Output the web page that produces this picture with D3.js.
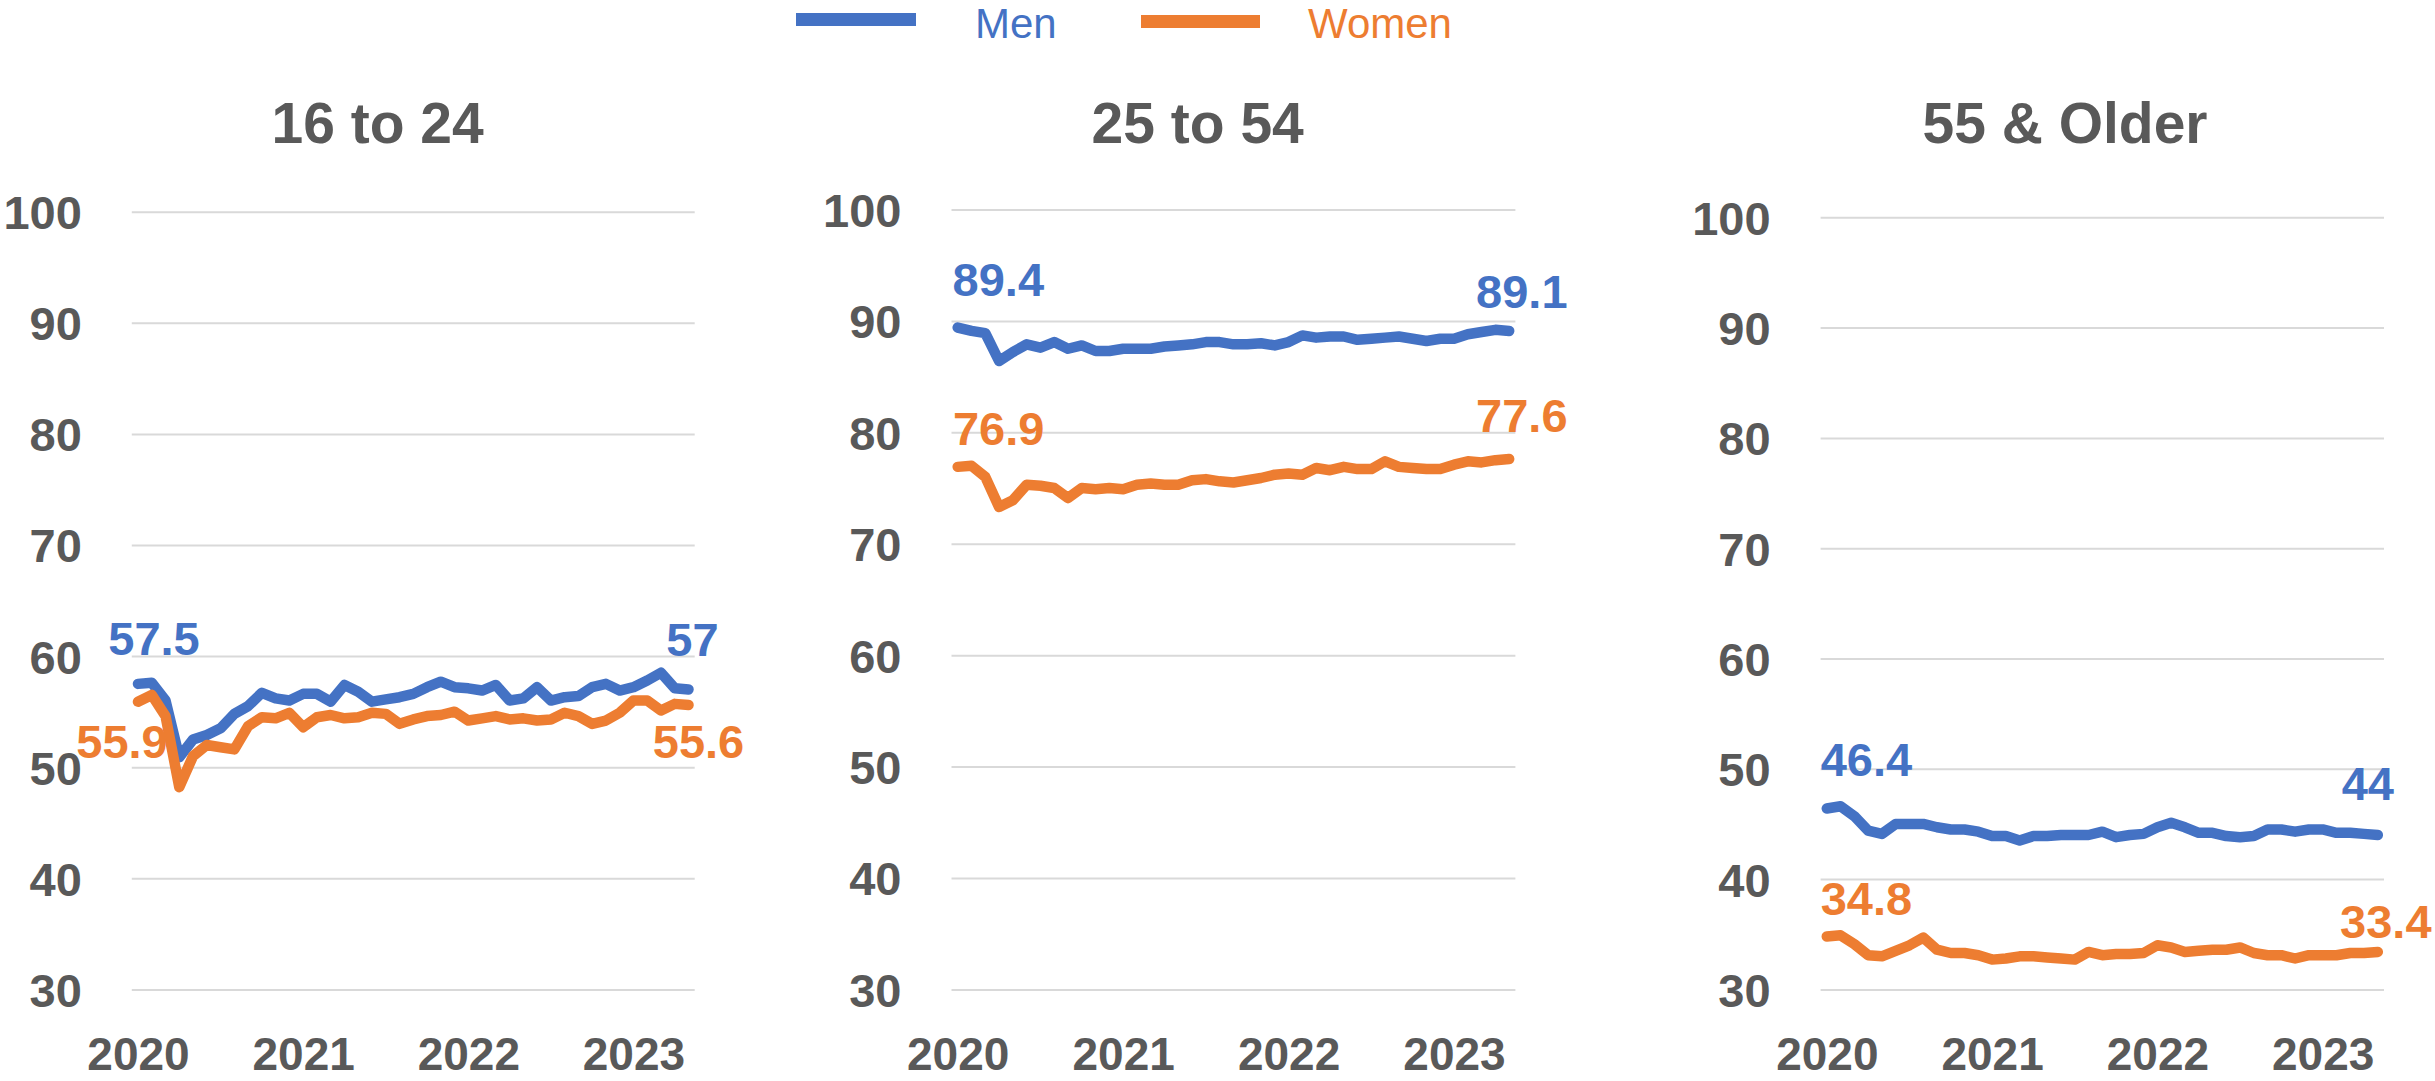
<!DOCTYPE html>
<html>
<head>
<meta charset="utf-8">
<script src="https://cdn.jsdelivr.net/npm/d3@7"></script>
<style>
  html, body { margin: 0; padding: 0; background: #ffffff; }
  svg { display: block; }
  text { font-family: "Liberation Sans", Arial, sans-serif; }
</style>
</head>
<body>
<svg id="chart" width="2435" height="1081"></svg>
<script>
// ---------------- data ----------------
const months = [
  "2020-01","2020-02","2020-03","2020-04","2020-05","2020-06","2020-07","2020-08","2020-09","2020-10","2020-11","2020-12",
  "2021-01","2021-02","2021-03","2021-04","2021-05","2021-06","2021-07","2021-08","2021-09","2021-10","2021-11","2021-12",
  "2022-01","2022-02","2022-03","2022-04","2022-05","2022-06","2022-07","2022-08","2022-09","2022-10","2022-11","2022-12",
  "2023-01","2023-02","2023-03","2023-04","2023-05"
];
const yearTicks = ["2020-01", "2021-01", "2022-01", "2023-01"];
const yearLabels = ["2020", "2021", "2022", "2023"];
const yTicks = [30, 40, 50, 60, 70, 80, 90, 100];
const seriesNames = ["Men", "Women"];
const panelTitles = ["16 to 24", "25 to 54", "55 & Older"];

const men16 = [57.5,57.6,56.0,50.9,52.5,52.9,53.5,54.8,55.5,56.7,56.2,56.0,56.6,56.6,55.9,57.4,56.8,55.9,56.1,56.3,
               56.6,57.2,57.7,57.2,57.1,56.9,57.4,56.0,56.2,57.2,56.0,56.3,56.4,57.2,57.5,56.9,57.2,57.8,58.5,57.1,57.0];
const women16 = [55.9,56.5,54.6,48.2,51.0,52.0,51.8,51.6,53.7,54.5,54.4,54.9,53.6,54.5,54.7,54.4,54.5,54.9,54.8,53.9,
                 54.3,54.6,54.7,55.0,54.2,54.4,54.6,54.3,54.4,54.2,54.3,54.9,54.6,53.9,54.2,54.9,56.0,56.0,55.1,55.7,55.6];
const men25 = [89.4,89.1,88.9,86.4,87.2,87.9,87.6,88.1,87.5,87.8,87.3,87.3,87.5,87.5,87.5,87.7,87.8,87.9,88.1,88.1,
               87.9,87.9,88.0,87.8,88.1,88.7,88.5,88.6,88.6,88.3,88.4,88.5,88.6,88.4,88.2,88.4,88.4,88.8,89.0,89.2,89.1];
const women25 = [76.9,77.0,76.0,73.3,73.9,75.3,75.2,75.0,74.1,75.0,74.9,75.0,74.9,75.3,75.4,75.3,75.3,75.7,75.8,75.6,
                 75.5,75.7,75.9,76.2,76.3,76.2,76.8,76.6,76.9,76.7,76.7,77.4,76.9,76.8,76.7,76.7,77.1,77.4,77.3,77.5,77.6];
const men55 = [46.4,46.6,45.7,44.4,44.1,45.0,45.0,45.0,44.7,44.5,44.5,44.3,43.9,43.9,43.5,43.9,43.9,44.0,44.0,44.0,
               44.3,43.8,44.0,44.1,44.7,45.1,44.7,44.2,44.2,43.9,43.8,43.9,44.5,44.5,44.3,44.5,44.5,44.2,44.2,44.1,44.0];
const women55 = [34.8,34.9,34.1,33.1,33.0,33.5,34.0,34.7,33.6,33.3,33.3,33.1,32.7,32.8,33.0,33.0,32.9,32.8,32.7,33.4,
                 33.1,33.2,33.2,33.3,34.0,33.8,33.4,33.5,33.6,33.6,33.8,33.3,33.1,33.1,32.8,33.1,33.1,33.1,33.3,33.3,33.4];

// ---------------- styles / layout ----------------
const COLORS = { Men: "#4472C4", Women: "#ED7D31" };
const TEXT = "#595959";
const GRID = "#D9D9D9";
const BOTTOM = 989.4;

const panelLayout = [
  { left: 131.8, right: 694.7, top: 211.7, titleX: 377.6,
    labels: { Men: [[16, -28.5], [4, -33]], Women: [[-16, 56], [10, 53]] } },
  { left: 951.5, right: 1515.4, top: 209.5, titleX: 1197.7,
    labels: { Men: [[40.6, -32], [12.6, -23]], Women: [[41, -22], [12.6, -27]] } },
  { left: 1820.6, right: 2384, top: 217.3, titleX: 2065,
    labels: { Men: [[39.6, -32.6], [-10, -35]], Women: [[39.6, -21.7], [8, -14]] } }
];

const panelSeries = [
  { Men: men16, Women: women16 },
  { Men: men25, Women: women25 },
  { Men: men55, Women: women55 }
];

const svg = d3.select("#chart");

// ---------------- legend ----------------
const legendItems = [
  { name: seriesNames[0], lineX: 796, lineW: 120, lineY: 13, textX: 975, baseY: 38 },
  { name: seriesNames[1], lineX: 1141, lineW: 119, lineY: 15, textX: 1308, baseY: 38 }
];
const legend = svg.append("g");
legend.selectAll("rect").data(legendItems).join("rect")
  .attr("x", d => d.lineX).attr("y", d => d.lineY)
  .attr("width", d => d.lineW).attr("height", 13)
  .attr("fill", d => COLORS[d.name]);
legend.selectAll("text").data(legendItems).join("text")
  .attr("x", d => d.textX).attr("y", d => d.baseY)
  .attr("fill", d => COLORS[d.name])
  .style("font-size", "42px")
  .text(d => d.name);

// ---------------- panels ----------------
panelLayout.forEach((P, pi) => {
  const g = svg.append("g");
  const x = d3.scaleLinear().domain([-0.45, months.length - 1 + 0.45]).range([P.left, P.right]);
  const y = d3.scaleLinear().domain([30, 100]).range([BOTTOM, P.top]);

  // title
  g.append("text")
    .attr("x", P.titleX).attr("y", 143)
    .attr("text-anchor", "middle")
    .attr("fill", TEXT)
    .style("font-size", "57px").style("font-weight", "bold")
    .text(panelTitles[pi]);

  // y axis with gridlines
  const yAxis = d3.axisLeft(y)
    .tickValues(yTicks)
    .tickSizeInner(-(P.right - P.left))
    .tickSizeOuter(0)
    .tickPadding(50)
    .tickFormat(d3.format("d"));
  const ya = g.append("g").attr("transform", `translate(${P.left},0)`).call(yAxis);
  ya.select(".domain").remove();
  ya.selectAll(".tick line").attr("stroke", GRID).attr("stroke-width", 2);
  ya.selectAll(".tick text")
    .attr("fill", TEXT)
    .attr("dy", "0.36em")
    .style("font-size", "47px").style("font-weight", "bold")
    .style("font-family", "'Liberation Sans', Arial, sans-serif");

  // x axis (year labels)
  const xAxis = d3.axisBottom(x)
    .tickValues(yearTicks.map(m => months.indexOf(m)))
    .tickFormat((d, i) => yearLabels[i])
    .tickSize(0)
    .tickPadding(0);
  const xa = g.append("g").attr("transform", `translate(0,${BOTTOM})`).call(xAxis);
  xa.select(".domain").remove();
  xa.selectAll(".tick text")
    .attr("y", 80.5).attr("dy", null)
    .attr("fill", TEXT)
    .style("font-size", "46px").style("font-weight", "bold")
    .style("font-family", "'Liberation Sans', Arial, sans-serif");

  // lines
  const line = d3.line().x((d, i) => x(i)).y(d => y(d));
  seriesNames.forEach(name => {
    const vals = panelSeries[pi][name];
    g.append("path")
      .datum(vals)
      .attr("d", line)
      .attr("fill", "none")
      .attr("stroke", COLORS[name])
      .attr("stroke-width", 10.5)
      .attr("stroke-linejoin", "round")
      .attr("stroke-linecap", "round");
  });

  // data labels (first and last points)
  seriesNames.forEach(name => {
    const vals = panelSeries[pi][name];
    const idx = [0, vals.length - 1];
    idx.forEach((i, k) => {
      const off = P.labels[name][k];
      g.append("text")
        .attr("x", x(i) + off[0])
        .attr("y", y(vals[i]) + off[1])
        .attr("text-anchor", "middle")
        .attr("fill", COLORS[name])
        .style("font-size", "47px").style("font-weight", "bold")
        .text(String(vals[i]));
    });
  });
});
</script>
</body>
</html>
